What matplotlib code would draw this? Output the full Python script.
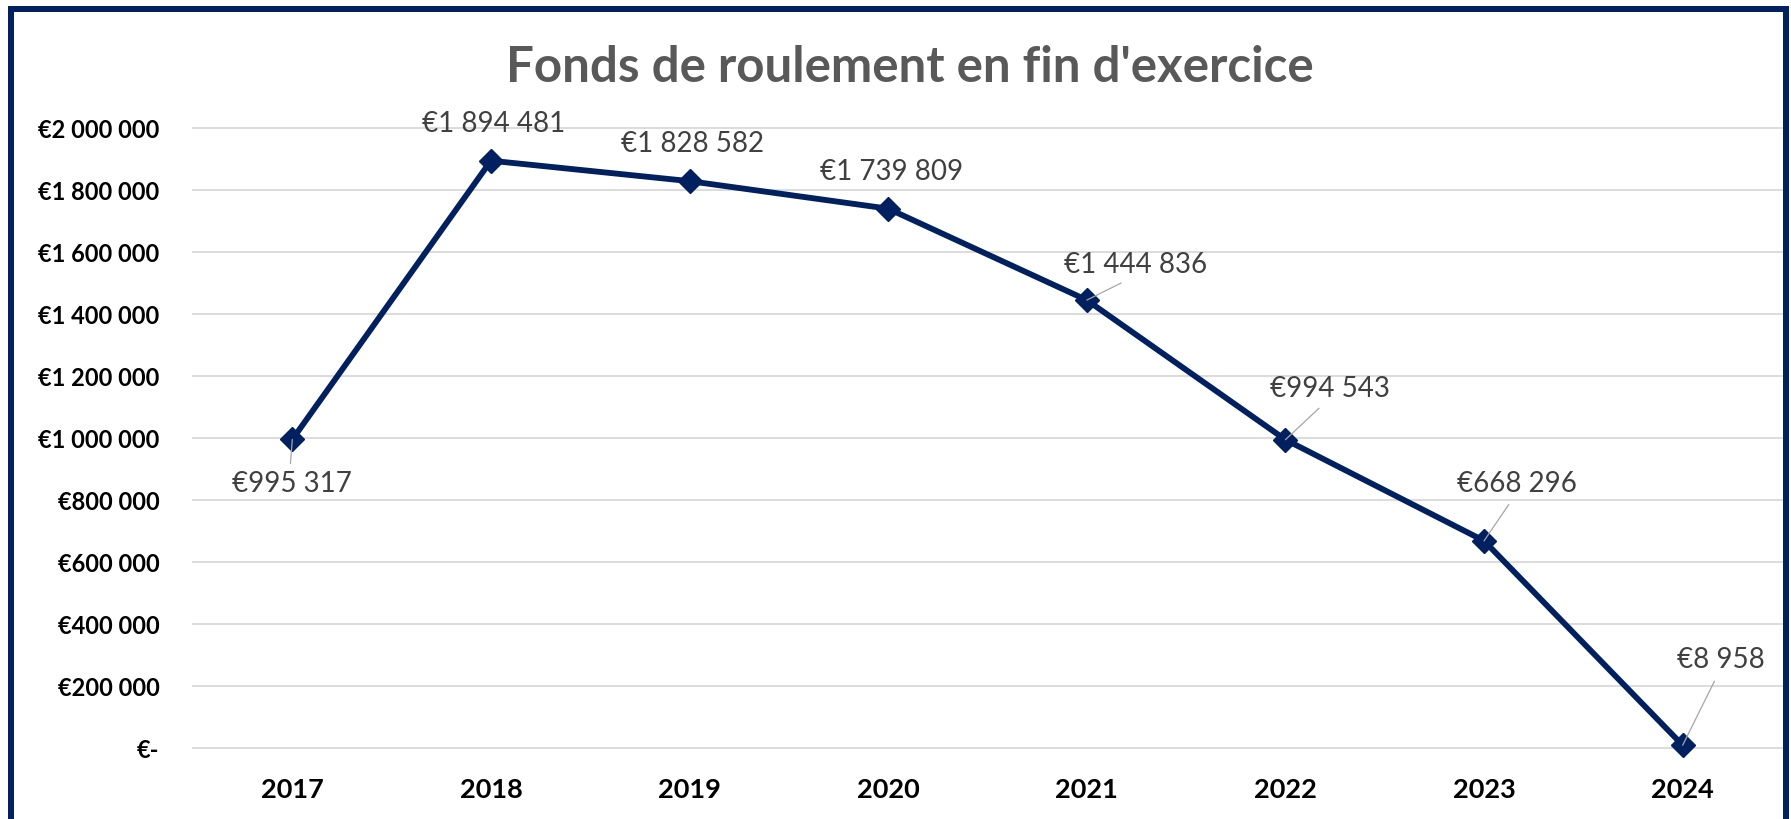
import matplotlib
matplotlib.use("Agg")
import matplotlib.pyplot as plt
from matplotlib.lines import Line2D

# ---------------- data ----------------
years = ["2017", "2018", "2019", "2020", "2021", "2022", "2023", "2024"]
values = [995317, 1894481, 1828582, 1739809, 1444836, 994543, 668296, 8958]
y_ticks = [0, 200000, 400000, 600000, 800000, 1000000, 1200000, 1400000,
           1600000, 1800000, 2000000]
y_tick_labels = ["€-", "€200 000", "€400 000", "€600 000", "€800 000",
                 "€1 000 000", "€1 200 000", "€1 400 000", "€1 600 000",
                 "€1 800 000", "€2 000 000"]
title = "Fonds de roulement en fin d'exercice"

# ---------------- style ----------------
W, H, DPI = 1791, 820, 100
NAVY = "#002060"
FONT = "Lato"
PX = 72.0 / DPI  # px -> pt

# label centre offsets from marker (px, y up) and leader flags
label_offsets = [(0, -42), (3, 40), (3, 40), (3, 40), (49, 38), (44, 54), (33, 60), (38, 88)]
leaders = [True, False, False, False, True, True, True, True]

fig = plt.figure(figsize=(W / DPI, H / DPI), dpi=DPI)
fig.patch.set_facecolor("white")

left, right, top, bottom = 193, 1782, 129, 749
ax = fig.add_axes([left / W, (H - bottom) / H, (right - left) / W, (bottom - top) / H])
ax.set_facecolor("white")

x = list(range(len(years)))
ax.plot(x, values, color=NAVY, lw=4.2, marker="D", ms=12.5, mfc=NAVY, mec=NAVY,
        zorder=3, solid_joinstyle="round", clip_on=False)

ax.set_xlim(-0.5, len(years) - 0.5)
ax.set_ylim(0, 2000000)
ax.set_yticks(y_ticks)
ax.set_yticklabels(y_tick_labels, fontfamily=FONT, fontweight="bold", fontsize=17, color="black")
ax.set_xticks(x)
ax.set_xticklabels(years, fontfamily=FONT, fontweight="bold", fontsize=19.5, color="black")
ax.tick_params(axis="both", length=0)
ax.tick_params(axis="y", pad=24)
ax.tick_params(axis="x", pad=21)
ax.grid(axis="y", color="#D9D9D9", lw=1.3, clip_on=False)
ax.grid(axis="x", visible=False)
ax.set_axisbelow(True)
for s in ax.spines.values():
    s.set_visible(False)

# data labels
label_size = 20
half_cap = 10  # px, half of digit height
for i, v in enumerate(values):
    dx, dy = label_offsets[i]
    txt = "€" + f"{v:,}".replace(",", " ")
    kw = {}
    if leaders[i]:
        if dy < 0:
            rel, gap = (0.48, 1.0), 3
        else:
            rel, gap = (0.48, 0.0), 5
        kw["arrowprops"] = dict(arrowstyle="-", color="#A6A6A6", lw=0.9,
                                shrinkA=gap, shrinkB=0, relpos=rel)
    ax.annotate(txt, xy=(i, v), xytext=(dx * PX, (dy - half_cap) * PX),
                textcoords="offset points", ha="center", va="baseline",
                fontsize=label_size, fontfamily=FONT, color="#404040",
                zorder=5, annotation_clip=False, **kw)

# title, fitted to reference width
t = fig.text(910 / W, 1 - 82 / H, title, ha="center", va="baseline",
             fontsize=34, fontweight="bold", color="#595959", fontfamily=FONT)
fig.canvas.draw()
w = t.get_window_extent().width
t.set_fontsize(34 * 810 / w)

# frame border (left, top, right; bottom cut off)
bl, bt, br = 11 / W, 1 - 10 / H, 1786 / W
fig.add_artist(Line2D([bl, bl, br, br], [-0.1, bt, bt, -0.1], transform=fig.transFigure,
                      color=NAVY, lw=6 * PX, solid_joinstyle="miter"))

fig.savefig("out.png", dpi=DPI)
